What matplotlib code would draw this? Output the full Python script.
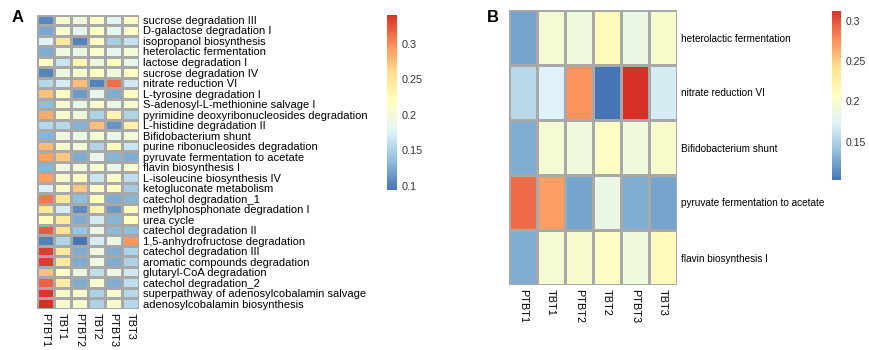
import numpy as np
import matplotlib
matplotlib.use("Agg")
import matplotlib.pyplot as plt
from matplotlib.colors import LinearSegmentedColormap

plt.rcParams['font.family'] = ['Liberation Sans', 'DejaVu Sans']

samples = ["PTBT1", "TBT1", "PTBT2", "TBT2", "PTBT3", "TBT3"]

pathways_a = [
    "sucrose degradation III",
    "D-galactose degradation I",
    "isopropanol biosynthesis",
    "heterolactic fermentation",
    "lactose degradation I",
    "sucrose degradation IV",
    "nitrate reduction VI",
    "L-tyrosine degradation I",
    "S-adenosyl-L-methionine salvage I",
    "pyrimidine deoxyribonucleosides degradation",
    "L-histidine degradation II",
    "Bifidobacterium shunt",
    "purine ribonucleosides degradation",
    "pyruvate fermentation to acetate",
    "flavin biosynthesis I",
    "L-isoleucine biosynthesis IV",
    "ketogluconate metabolism",
    "catechol degradation_1",
    "methylphosphonate degradation I",
    "urea cycle",
    "catechol degradation II",
    "1,5-anhydrofructose degradation",
    "catechol degradation III",
    "aromatic compounds degradation",
    "glutaryl-CoA degradation",
    "catechol degradation_2",
    "superpathway of adenosylcobalamin salvage",
    "adenosylcobalamin biosynthesis",
]

values_a = [
    [0.105, 0.205, 0.195, 0.215, 0.180, 0.215],
    [0.122, 0.205, 0.185, 0.215, 0.183, 0.210],
    [0.178, 0.245, 0.103, 0.215, 0.148, 0.163],
    [0.125, 0.195, 0.190, 0.210, 0.185, 0.200],
    [0.215, 0.165, 0.228, 0.195, 0.220, 0.185],
    [0.103, 0.195, 0.205, 0.215, 0.198, 0.215],
    [0.155, 0.172, 0.275, 0.1025, 0.3125, 0.168],
    [0.275, 0.215, 0.115, 0.185, 0.125, 0.215],
    [0.135, 0.205, 0.190, 0.210, 0.190, 0.205],
    [0.285, 0.205, 0.198, 0.150, 0.232, 0.152],
    [0.155, 0.155, 0.128, 0.275, 0.112, 0.235],
    [0.130, 0.195, 0.190, 0.205, 0.190, 0.200],
    [0.278, 0.205, 0.198, 0.152, 0.222, 0.165],
    [0.290, 0.270, 0.125, 0.185, 0.130, 0.125],
    [0.130, 0.195, 0.200, 0.205, 0.190, 0.210],
    [0.290, 0.205, 0.215, 0.165, 0.212, 0.160],
    [0.175, 0.212, 0.272, 0.215, 0.220, 0.145],
    [0.310, 0.252, 0.135, 0.218, 0.125, 0.130],
    [0.248, 0.172, 0.108, 0.232, 0.115, 0.222],
    [0.222, 0.245, 0.125, 0.170, 0.130, 0.218],
    [0.322, 0.255, 0.140, 0.190, 0.133, 0.135],
    [0.101, 0.152, 0.094, 0.172, 0.190, 0.295],
    [0.335, 0.245, 0.125, 0.195, 0.125, 0.150],
    [0.335, 0.245, 0.125, 0.195, 0.125, 0.150],
    [0.275, 0.215, 0.190, 0.160, 0.192, 0.168],
    [0.318, 0.240, 0.125, 0.205, 0.125, 0.160],
    [0.338, 0.208, 0.208, 0.150, 0.208, 0.155],
    [0.341, 0.208, 0.208, 0.150, 0.208, 0.155],
]

pathways_b = [
    "heterolactic fermentation",
    "nitrate reduction VI",
    "Bifidobacterium shunt",
    "pyruvate fermentation to acetate",
    "flavin biosynthesis I",
]

ticks_a = [0.1, 0.15, 0.2, 0.25, 0.3]
ticks_b = [0.15, 0.2, 0.25, 0.3]

A = np.array(values_a)
B = np.array([values_a[pathways_a.index(p)] for p in pathways_b])

cmap = LinearSegmentedColormap.from_list(
    "rdylbu7", ["#4575B4", "#91BFDB", "#E0F3F8", "#FFFFBF", "#FEE090", "#FC8D59", "#D73027"])

W, H = 869, 350
fig = plt.figure(figsize=(W / 100, H / 100), dpi=100)


def px_axes(x0, y0, x1, y1):
    return fig.add_axes([x0 / W, 1 - y1 / H, (x1 - x0) / W, (y1 - y0) / H])


def heat(ax, data, rows, fs_row, fs_col):
    m = ax.pcolormesh(data, cmap=cmap, vmin=data.min(), vmax=data.max(),
                      edgecolors="#a8a8a8", linewidth=0.8)
    ax.set_xlim(0, data.shape[1])
    ax.set_ylim(data.shape[0], 0)
    ax.set_xticks(np.arange(data.shape[1]) + 0.5)
    ax.set_xticklabels(samples, rotation=-90, fontsize=fs_col, va="top")
    ax.set_yticks(np.arange(data.shape[0]) + 0.5)
    ax.set_yticklabels(rows, fontsize=fs_row)
    ax.yaxis.tick_right()
    ax.tick_params(length=0, pad=3)
    for s in ax.spines.values():
        s.set_visible(False)
    return m


def cbar(m, cax, ticks, fs):
    cb = fig.colorbar(m, cax=cax, ticks=ticks)
    cb.outline.set_visible(False)
    cb.ax.set_yticklabels([f"{t:g}" for t in ticks], fontsize=fs, color="#333333")
    cb.ax.tick_params(length=0, pad=3)
    return cb


axA = px_axes(36.5, 14.7, 139, 309)
mA = heat(axA, A, pathways_a, 8.0, 7.8)
caxA = px_axes(387, 14.5, 397.5, 190)
cbar(mA, caxA, ticks_a, 7.8)

axB = px_axes(509, 10, 677, 285)
mB = heat(axB, B, pathways_b, 7.2, 7.8)
caxB = px_axes(831.5, 10.5, 841, 180)
cbar(mB, caxB, ticks_b, 7.6)

fig.text(12 / W, 1 - 17.5 / H, "A", fontsize=12, fontweight="bold", va="center", ha="left")
fig.text(487 / W, 1 - 18 / H, "B", fontsize=12, fontweight="bold", va="center", ha="left")

fig.savefig("out.png", dpi=100)
